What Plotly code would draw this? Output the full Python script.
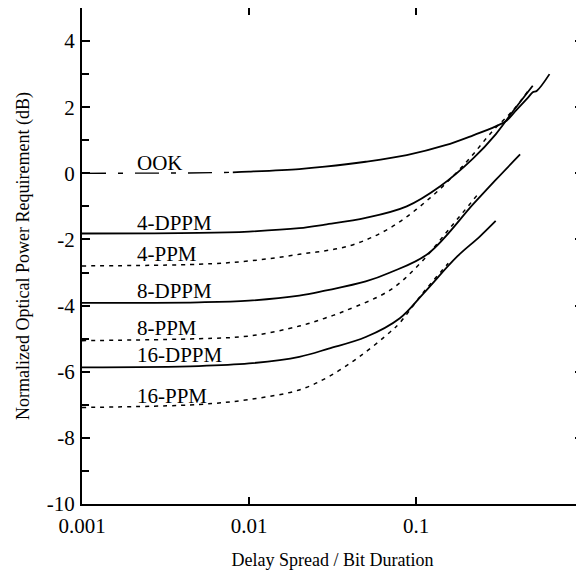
import plotly.graph_objects as go

# curves (x = delay spread / bit duration, y = dB)
ook_x = [0.001, 0.002, 0.004, 0.008, 0.01, 0.02, 0.0285, 0.05, 0.088, 0.15, 0.22, 0.3, 0.35, 0.4, 0.47, 0.5, 0.53, 0.63]
ook_y = [0.0, 0.0, 0.01, 0.03, 0.05, 0.13, 0.2, 0.35, 0.55, 0.85, 1.15, 1.42, 1.6, 1.92, 2.3, 2.45, 2.5, 3.0]

dppm4_x = [0.001, 0.005, 0.01, 0.02, 0.0285, 0.05, 0.088, 0.139, 0.22, 0.3, 0.38, 0.5]
dppm4_y = [-1.82, -1.8, -1.76, -1.66, -1.55, -1.35, -1.0, -0.4, 0.45, 1.18, 1.87, 2.65]

ppm4_x = [0.001, 0.005, 0.01, 0.02, 0.04, 0.07, 0.121, 0.197, 0.29, 0.38, 0.48]
ppm4_y = [-2.8, -2.75, -2.65, -2.45, -2.19, -1.65, -0.75, 0.3, 1.3, 1.9, 2.56]

dppm8_x = [0.001, 0.005, 0.01, 0.02, 0.0285, 0.05, 0.07, 0.118, 0.22, 0.3, 0.42]
dppm8_y = [-3.92, -3.9, -3.85, -3.7, -3.55, -3.27, -3.0, -2.43, -0.93, -0.2, 0.57]

ppm8_x = [0.001, 0.005, 0.01, 0.02, 0.0285, 0.038, 0.07, 0.106, 0.16, 0.235]
ppm8_y = [-5.06, -5.0, -4.92, -4.62, -4.38, -4.15, -3.53, -2.72, -1.65, -0.63]

dppm16_x = [0.001, 0.005, 0.01, 0.02, 0.03, 0.05, 0.08, 0.11, 0.176, 0.24, 0.3]
dppm16_y = [-5.87, -5.83, -5.75, -5.55, -5.3, -4.95, -4.38, -3.65, -2.52, -1.92, -1.44]

ppm16_x = [0.001, 0.005, 0.01, 0.02, 0.03, 0.046, 0.07, 0.08, 0.11, 0.156]
ppm16_y = [-7.08, -6.99, -6.84, -6.55, -6.15, -5.54, -4.8, -4.52, -3.62, -2.72]

x_ticks = [0.001, 0.01, 0.1, 1]
x_ticktext = ['0.001', '0.01', '0.1', '1']
y_ticks = [-10, -8, -6, -4, -2, 0, 2, 4]
y_ticktext = ['-10', '-8', '-6', '-4', '-2', '0', '2', '4']

labels = ['OOK', '4-DPPM', '4-PPM', '8-DPPM', '8-PPM', '16-DPPM', '16-PPM']
label_y = [0.3, -1.5, -2.44, -3.55, -4.67, -5.5, -6.72]

FONT = 'Liberation Serif'
solid = dict(color='black', width=1.8)
dotted = dict(color='black', width=1.5, dash='4px,5px')

fig = go.Figure()

# OOK: dash-dot at the low end, solid afterwards
split = 4
fig.add_trace(go.Scatter(x=ook_x[:split], y=ook_y[:split], mode='lines',
                         line=dict(color='black', width=1.4, dash='24px,12px,5px,12px')))
fig.add_trace(go.Scatter(x=ook_x[split - 1:], y=ook_y[split - 1:], mode='lines', line=solid,
                         line_shape='spline'))

for xs, ys, ln in [(dppm4_x, dppm4_y, solid), (ppm4_x, ppm4_y, dotted),
                   (dppm8_x, dppm8_y, solid), (ppm8_x, ppm8_y, dotted),
                   (dppm16_x, dppm16_y, solid), (ppm16_x, ppm16_y, dotted)]:
    fig.add_trace(go.Scatter(x=xs, y=ys, mode='lines', line=ln, line_shape='spline'))

for txt, yv in zip(labels, label_y):
    fig.add_annotation(x=-2.68, y=yv, xref='x', yref='y', text=txt, showarrow=False,
                       xanchor='left', yanchor='middle', font=dict(size=21, color='black', family=FONT))

fig.update_xaxes(type='log', range=[-3, 0], tickvals=x_ticks, ticktext=x_ticktext,
                 ticks='inside', ticklen=7, tickwidth=1.5, tickcolor='black',
                 showline=True, linecolor='black', linewidth=2, mirror='ticks',
                 showgrid=False, zeroline=False, ticklabelstandoff=2, automargin=False,
                 title=dict(text='Delay Spread / Bit Duration', standoff=16,
                            font=dict(size=18, family=FONT, color='black')),
                 tickfont=dict(size=21, family=FONT, color='black'))
fig.update_yaxes(range=[-10, 5], tickvals=y_ticks, ticktext=y_ticktext,
                 ticks='inside', ticklen=8, tickwidth=1.5, tickcolor='black',
                 minor=dict(tickvals=[-9, -7, -5, -3, -1, 1, 3, 5], ticks='inside',
                            ticklen=7, tickwidth=1.5, tickcolor='black'),
                 showline=True, linecolor='black', linewidth=2, mirror='ticks',
                 showgrid=False, zeroline=False, ticklabelstandoff=1, automargin=False,
                 title=dict(text='Normalized Optical Power Requirement (dB)', standoff=12,
                            font=dict(size=18, family=FONT, color='black')),
                 tickfont=dict(size=21, family=FONT, color='black'))

# page body adds an 8px margin, so the figure is a bit smaller than the window
fig.update_layout(
    width=576, height=566,
    margin=dict(l=74, r=1, t=0, b=70),
    paper_bgcolor='white', plot_bgcolor='white',
    showlegend=False,
    font=dict(family=FONT, size=18, color='black'),
)

fig.write_html("out.html")
